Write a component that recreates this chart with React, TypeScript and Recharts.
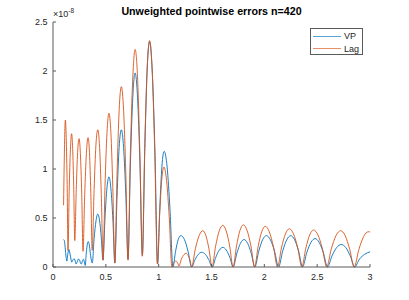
import React from 'react';
import { LineChart, Line, XAxis, YAxis, Legend } from 'recharts';

const TITLE = 'Unweighted pointwise errors n=420';
const X_TICKS = [0, 0.5, 1, 1.5, 2, 2.5, 3];
const Y_TICKS = [0, 0.5, 1, 1.5, 2, 2.5];

// values are in units of 1e-8 (as shown on the y axis)
const VP_X = [
  0.100, 0.107, 0.115, 0.124, 0.131, 0.140, 0.150, 0.160, 0.170, 0.178, 0.188, 0.198, 0.208, 0.218,
  0.228, 0.240, 0.250, 0.260, 0.268, 0.278, 0.288, 0.297, 0.305, 0.314, 0.323, 0.333, 0.343, 0.353,
  0.363, 0.372, 0.389, 0.407, 0.424, 0.440, 0.457, 0.473, 0.492, 0.511, 0.530, 0.548, 0.567, 0.585,
  0.606, 0.626, 0.647, 0.668, 0.689, 0.710, 0.732, 0.755, 0.777, 0.800, 0.823, 0.846, 0.869, 0.891,
  0.914, 0.939, 0.965, 0.990, 1.011, 1.031, 1.052, 1.080, 1.107, 1.135, 1.160, 1.185, 1.210, 1.244,
  1.278, 1.312, 1.344, 1.376, 1.408, 1.441, 1.474, 1.507, 1.541, 1.574, 1.608, 1.640, 1.673, 1.705,
  1.740, 1.774, 1.808, 1.842, 1.876, 1.910, 1.947, 1.983, 2.020, 2.058, 2.097, 2.135, 2.173, 2.212,
  2.250, 2.287, 2.325, 2.362, 2.401, 2.441, 2.480, 2.519, 2.559, 2.598, 2.641, 2.685, 2.728, 2.770,
  2.813, 2.855, 2.900, 2.950, 3.000,
];
const VP_Y = [
  0.28, 0.27, 0.20, 0.10, 0.06, 0.13, 0.18, 0.14, 0.08, 0.05, 0.07, 0.085, 0.07, 0.03,
  0.05, 0.08, 0.075, 0.04, 0.03, 0.06, 0.08, 0.05, 0.015, 0.13, 0.22, 0.26, 0.23, 0.14,
  0.07, 0.04, 0.29, 0.47, 0.54, 0.48, 0.30, 0.07, 0.50, 0.81, 0.92, 0.80, 0.48, 0.04,
  0.72, 1.22, 1.40, 1.22, 0.74, 0.08, 1.03, 1.73, 1.98, 1.73, 1.05, 0.12, 1.21, 2.01,
  2.30, 2.00, 1.17, 0.03, 0.61, 1.03, 1.18, 1.02, 0.59, 0.00, 0.16, 0.28, 0.32, 0.28,
  0.16, 0.00, 0.075, 0.13, 0.15, 0.13, 0.075, 0.00, 0.10, 0.173, 0.20, 0.173, 0.10, 0.00,
  0.14, 0.242, 0.28, 0.242, 0.14, 0.00, 0.16, 0.277, 0.32, 0.277, 0.16, 0.00, 0.16, 0.277,
  0.32, 0.277, 0.16, 0.00, 0.145, 0.251, 0.29, 0.251, 0.145, 0.00, 0.115, 0.199, 0.23, 0.199,
  0.115, 0.00, 0.08, 0.13, 0.155,
];

const LAG_X = [
  0.100, 0.106, 0.111, 0.117, 0.125, 0.134, 0.142, 0.153, 0.165, 0.176, 0.186, 0.196, 0.206, 0.220,
  0.233, 0.247, 0.259, 0.272, 0.284, 0.300, 0.316, 0.332, 0.345, 0.358, 0.371, 0.389, 0.406, 0.424,
  0.441, 0.457, 0.474, 0.492, 0.511, 0.529, 0.548, 0.566, 0.585, 0.606, 0.626, 0.647, 0.668, 0.689,
  0.710, 0.732, 0.755, 0.777, 0.800, 0.822, 0.845, 0.868, 0.891, 0.914, 0.939, 0.963, 0.988, 1.009,
  1.029, 1.050, 1.075, 1.100, 1.125, 1.140, 1.162, 1.180, 1.192, 1.215, 1.238, 1.262, 1.279, 1.296,
  1.312, 1.347, 1.383, 1.418, 1.447, 1.476, 1.505, 1.539, 1.573, 1.607, 1.639, 1.672, 1.704, 1.737,
  1.769, 1.802, 1.837, 1.873, 1.908, 1.941, 1.975, 2.008, 2.047, 2.086, 2.125, 2.162, 2.200, 2.237,
  2.276, 2.316, 2.355, 2.392, 2.429, 2.466, 2.507, 2.549, 2.590, 2.634, 2.678, 2.722, 2.765, 2.807,
  2.850, 2.895, 2.940, 2.985, 3.000,
];
const LAG_Y = [
  0.63, 1.05, 1.35, 1.50, 1.32, 0.84, 0.17, 0.77, 1.20, 1.36, 1.21, 0.82, 0.27, 0.79,
  1.17, 1.31, 1.16, 0.74, 0.16, 0.74, 1.16, 1.32, 1.17, 0.75, 0.17, 0.79, 1.24, 1.40,
  1.22, 0.74, 0.07, 0.82, 1.37, 1.57, 1.37, 0.81, 0.04, 0.94, 1.60, 1.84, 1.60, 0.96,
  0.07, 1.15, 1.93, 2.22, 1.94, 1.17, 0.11, 1.21, 2.02, 2.31, 2.00, 1.17, 0.03, 0.53,
  0.89, 1.02, 0.88, 0.51, 0.00, 0.035, 0.06, 0.04, 0.01, 0.08, 0.125, 0.14, 0.12, 0.07,
  0.00, 0.185, 0.32, 0.37, 0.32, 0.185, 0.00, 0.213, 0.368, 0.425, 0.368, 0.213, 0.00, 0.215,
  0.372, 0.43, 0.372, 0.215, 0.00, 0.208, 0.359, 0.415, 0.359, 0.208, 0.00, 0.195, 0.338, 0.39,
  0.338, 0.195, 0.00, 0.189, 0.327, 0.378, 0.327, 0.189, 0.00, 0.185, 0.32, 0.37, 0.32, 0.185,
  0.00, 0.18, 0.312, 0.36, 0.357,
];

const SERIES_NAMES = ['VP', 'Lag'];
const SERIES_COLORS = ['#0072BD', '#D95319'];

const FONT = '"Liberation Sans", Arial, Helvetica, sans-serif';
const AXIS_COLOR = '#262626';
const BOX_COLOR = '#5a5a5a';
const TICK_STYLE = { fill: AXIS_COLOR, fontSize: 9, fontFamily: FONT };

const vpData = VP_X.map((x, i) => ({ x, y: VP_Y[i] }));
const lagData = LAG_X.map((x, i) => ({ x, y: LAG_Y[i] }));

function LegendBox({ payload }: { payload?: { value: string; color: string }[] }) {
  // keep plotting order (VP first), not alphabetical
  const items = [...(payload || [])].sort((a, b) => SERIES_NAMES.indexOf(a.value) - SERIES_NAMES.indexOf(b.value));
  return (
    <div style={{ width: 53, height: 27, boxSizing: 'border-box', border: `1px solid ${BOX_COLOR}`, background: '#fff', paddingTop: 1 }}>
      {items.map((p) => (
        <div key={p.value} style={{ display: 'flex', alignItems: 'center', height: 12.5, fontSize: 9, fontFamily: FONT, color: AXIS_COLOR }}>
          <span style={{ display: 'inline-block', width: 28, height: 1, marginLeft: 2, marginRight: 3, background: p.color, opacity: 0.65 }} />
          <span>{p.value}</span>
        </div>
      ))}
    </div>
  );
}

export default function App() {
  return (
    <div style={{ position: 'absolute', left: 0, top: 0, width: 409, height: 300, background: '#fff', fontFamily: FONT }}>
      <div style={{ position: 'absolute', left: 0, width: 423, top: 5, textAlign: 'center', fontSize: 10.7, fontWeight: 'bold', color: '#000', zIndex: 2, whiteSpace: 'nowrap' }}>
        {TITLE}
      </div>
      <div style={{ position: 'absolute', left: 53, top: 9, fontSize: 9, color: AXIS_COLOR, zIndex: 2, whiteSpace: 'nowrap' }}>
        ×10<sup style={{ fontSize: 6.5, verticalAlign: 'top', position: 'relative', top: -2 }}>-8</sup>
      </div>
      <LineChart width={409} height={300} margin={{ top: 22, right: 39, bottom: 13, left: 23 }}>
        <XAxis dataKey="x" type="number" domain={[0, 3]} ticks={X_TICKS} allowDataOverflow
          height={20} tickSize={-3} tickMargin={10} tick={TICK_STYLE}
          axisLine={{ stroke: BOX_COLOR }} tickLine={{ stroke: BOX_COLOR }} />
        <XAxis xAxisId="top" orientation="top" dataKey="x" type="number" domain={[0, 3]} ticks={X_TICKS}
          height={0} tickSize={-3} tick={false} axisLine={{ stroke: BOX_COLOR }} tickLine={{ stroke: BOX_COLOR }} />
        <YAxis type="number" domain={[0, 2.5]} ticks={Y_TICKS} width={30} tickSize={-3} tickMargin={8.5}
          tick={TICK_STYLE} axisLine={{ stroke: BOX_COLOR }} tickLine={{ stroke: BOX_COLOR }} />
        <YAxis yAxisId="right" orientation="right" type="number" domain={[0, 2.5]} ticks={Y_TICKS} width={0}
          tickSize={-3} tick={false} axisLine={{ stroke: BOX_COLOR }} tickLine={{ stroke: BOX_COLOR }} />
        <Legend layout="vertical" align="center" verticalAlign="middle" content={<LegendBox />}
          wrapperStyle={{ left: 310, top: 28, width: 53, height: 27 }} />
        <Line data={vpData} dataKey="y" name={SERIES_NAMES[0]} type="monotone" stroke={SERIES_COLORS[0]}
          strokeWidth={0.9} dot={false} isAnimationActive={false} />
        <Line data={lagData} dataKey="y" name={SERIES_NAMES[1]} type="monotone" stroke={SERIES_COLORS[1]}
          strokeWidth={0.9} dot={false} isAnimationActive={false} />
      </LineChart>
    </div>
  );
}
